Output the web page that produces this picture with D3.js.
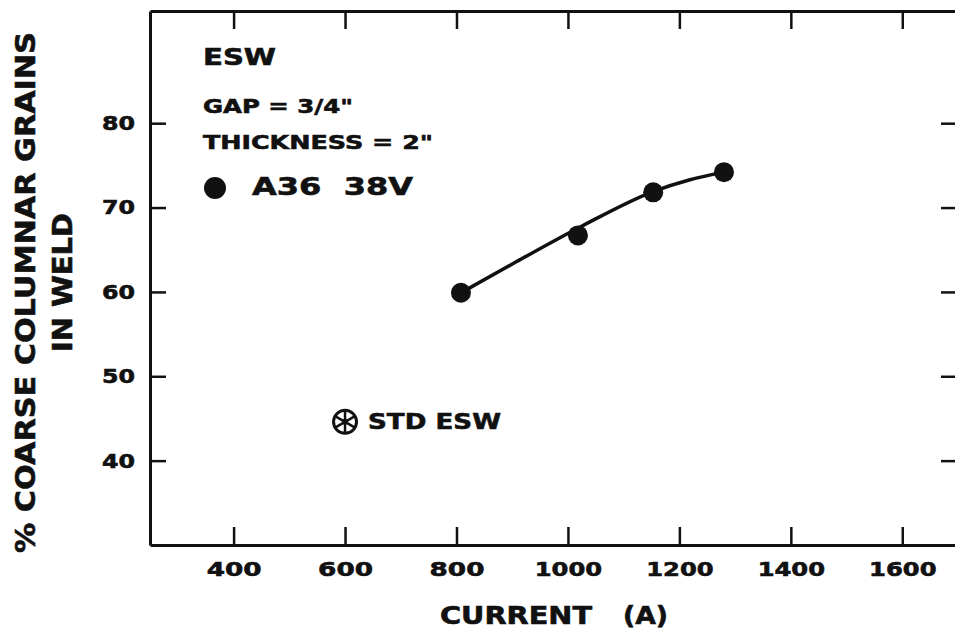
<!DOCTYPE html>
<meta charset="utf-8">
<style>
body { margin: 0; background: #fff; }
svg text { font-family: "DejaVu Sans", sans-serif; font-weight: bold; fill: #111; stroke: #111; stroke-width: 0.6px; }
.axis path, .axis line { stroke: #111; }
</style>
<svg width="955" height="635"></svg>
<script src="https://cdnjs.cloudflare.com/ajax/libs/d3/7.8.5/d3.min.js"></script>
<script>

// measured points (A36, 38V)
var currentA   = [808, 1018, 1153, 1280];
var coarsePct  = [59.9, 66.7, 71.8, 74.2];

// hand drawn curve through the points
var fitCurrent = [808, 908, 1022, 1153, 1219, 1280];
var fitPct     = [59.9, 63.6, 67.7, 71.9, 73.3, 74.2];

// standard ESW point
var stdCurrent = [600];
var stdPct     = [44.6];

var xTicks = [400, 600, 800, 1000, 1200, 1400, 1600];
var yTicks = [40, 50, 60, 70, 80];

var svg = d3.select("svg"),
    plotL = 150, plotR = 958, plotT = 11, plotB = 545;

var x = d3.scaleLinear().domain([250, 1700]).range([plotL, plotR]);
var y = d3.scaleLinear().domain([30, 93.3]).range([plotB, plotT]);

// stretch a text to the width it has in the figure
function stretch(sel, w) {
  sel.attr("textLength", w).attr("lengthAdjust", "spacingAndGlyphs");
}
function digitWidth(s, wide, narrow) {
  return s.split("").reduce(function(a, c) { return a + (c == "1" ? narrow : wide); }, 0);
}

// axes (ticks point inward on all four sides)
var gx = svg.append("g").attr("class", "axis").attr("transform", "translate(0," + plotB + ")")
    .call(d3.axisBottom(x).tickValues(xTicks).tickSize(-18).tickSizeOuter(0).tickPadding(17).tickFormat(d3.format("d")));
var gt = svg.append("g").attr("class", "axis").attr("transform", "translate(0," + plotT + ")")
    .call(d3.axisTop(x).tickValues(xTicks).tickSize(-18).tickSizeOuter(0).tickFormat(""));
var gy = svg.append("g").attr("class", "axis").attr("transform", "translate(" + plotL + ",0)")
    .call(d3.axisLeft(y).tickValues(yTicks).tickSize(-16).tickSizeOuter(0).tickPadding(15));
var gr = svg.append("g").attr("class", "axis").attr("transform", "translate(" + plotR + ",0)")
    .call(d3.axisRight(y).tickValues(yTicks).tickSize(-17).tickSizeOuter(0).tickFormat(""));

svg.selectAll(".axis path").attr("stroke-width", 3);
svg.selectAll(".axis line").attr("stroke-width", 2.5);

gx.selectAll("text").style("font-size", "20px")
  .each(function(d) { stretch(d3.select(this), digitWidth(String(d), 18.3, 12.5)); });
gy.selectAll("text").style("font-size", "20px")
  .each(function(d) { stretch(d3.select(this), digitWidth(String(d), 16.5, 12)); });

// fitted curve
var line = d3.line()
    .x(function(d) { return x(d[0]); })
    .y(function(d) { return y(d[1]); })
    .curve(d3.curveMonotoneX);

svg.append("path")
    .datum(d3.zip(fitCurrent, fitPct))
    .attr("d", line)
    .attr("fill", "none")
    .attr("stroke", "#111")
    .attr("stroke-width", 3.5);

svg.selectAll(".pt")
    .data(d3.zip(currentA, coarsePct))
  .enter().append("circle")
    .attr("class", "pt")
    .attr("cx", function(d) { return x(d[0]); })
    .attr("cy", function(d) { return y(d[1]); })
    .attr("r", 10)
    .attr("fill", "#111");

// STD ESW marker: circle with spokes
var std = svg.selectAll(".std")
    .data(d3.zip(stdCurrent, stdPct))
  .enter().append("g")
    .attr("class", "std")
    .attr("transform", function(d) { return "translate(" + x(d[0]) + "," + y(d[1]) + ")"; });

std.append("circle").attr("r", 11.5).attr("fill", "none").attr("stroke", "#111").attr("stroke-width", 3);
[90, 30, 150].forEach(function(a) {
  var r = a * Math.PI / 180;
  std.append("line")
    .attr("x1", -11 * Math.cos(r)).attr("y1", -11 * Math.sin(r))
    .attr("x2", 11 * Math.cos(r)).attr("y2", 11 * Math.sin(r))
    .attr("stroke", "#111").attr("stroke-width", 2.5);
});
std.append("circle").attr("r", 3).attr("fill", "#111");

std.append("text")
    .attr("x", 23).attr("y", 7.5)
    .style("font-size", "21.5px")
    .text("STD ESW")
    .call(stretch, 133);

// legend block
svg.append("text").attr("x", 203).attr("y", 65).style("font-size", "23px").text("ESW").call(stretch, 73);
svg.append("text").attr("x", 203).attr("y", 113).style("font-size", "19.5px").text("GAP = 3/4\"").call(stretch, 150);
svg.append("text").attr("x", 203).attr("y", 149).style("font-size", "20px").text("THICKNESS = 2\"").call(stretch, 230);
svg.append("circle").attr("cx", 215).attr("cy", 188).attr("r", 11).attr("fill", "#111");
svg.append("text").attr("x", 252).attr("y", 195).style("font-size", "24.5px").text("A36  38V")
    .attr("xml:space", "preserve").call(stretch, 161);

// axis titles
svg.append("text").attr("x", 440).attr("y", 624).style("font-size", "24px").text("CURRENT").call(stretch, 152);
svg.append("text").attr("x", 623).attr("y", 624).style("font-size", "24px").text("(A)").call(stretch, 45);

svg.append("text")
    .attr("transform", "translate(35," + 292.5 + ") rotate(-90)")
    .attr("text-anchor", "middle")
    .style("font-size", "27px")
    .text("% COARSE COLUMNAR GRAINS")
    .call(stretch, 521);
svg.append("text")
    .attr("transform", "translate(72," + 282.5 + ") rotate(-90)")
    .attr("text-anchor", "middle")
    .style("font-size", "26px")
    .text("IN WELD")
    .call(stretch, 139);

</script>
